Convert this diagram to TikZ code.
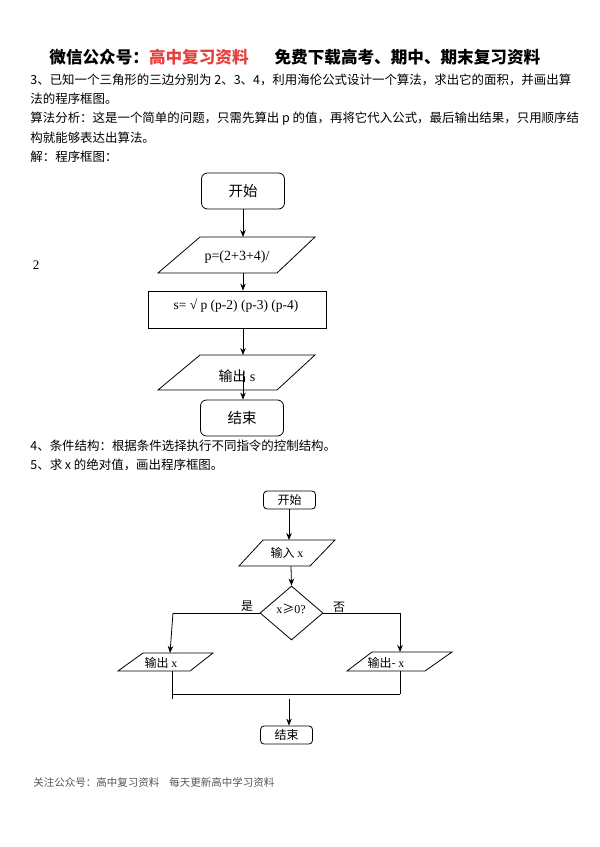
\documentclass[tikz,border=0pt]{standalone}
\usepackage{fontspec}
\setmainfont{Noto Sans CJK SC}
\newfontfamily\serif{Liberation Serif}
\usetikzlibrary{arrows.meta,shapes.geometric}
\definecolor{hdrred}{HTML}{E8403C}
\definecolor{footgray}{HTML}{555555}
\begin{document}
\begin{tikzpicture}[x=1bp,y=-1bp,line width=0.8bp,
  arr/.style={-{Stealth[length=7bp,width=5.5bp]}},
  bodytxt/.style={anchor=west,inner sep=0,font=\fontsize{12.45bp}{15bp}\selectfont},
  termA/.style={draw,rounded corners=6bp,inner sep=0,minimum width=83bp,minimum height=36bp,font=\fontsize{14.5bp}{17bp}\selectfont},
  termB/.style={draw,rounded corners=3.5bp,inner sep=0,minimum width=52bp,minimum height=18bp,font=\fontsize{12bp}{14bp}\selectfont},
  lblA/.style={inner sep=0,font=\fontsize{14bp}{17bp}\selectfont},
  lblB/.style={inner sep=0,font=\fontsize{12bp}{14bp}\selectfont}]
\useasboundingbox[fill=white] (0,0) rectangle (600,847);

% header
\node[anchor=west,inner sep=0,font=\fontsize{16.6bp}{20bp}\selectfont\bfseries] (hdr) at (49,57)
  {微信公众号：\textcolor{hdrred}{高中复习资料}\hspace{26bp}免费下载高考、期中、期末复习资料};

% body text
\node[bodytxt] (t1) at (30,80) {3、已知一个三角形的三边分别为 2、3、4，利用海伦公式设计一个算法，求出它的面积，并画出算};
\node[bodytxt] (t2) at (30,99) {法的程序框图。};
\node[bodytxt] (t3) at (30,119) {算法分析：这是一个简单的问题，只需先算出 p 的值，再将它代入公式，最后输出结果，只用顺序结};
\node[bodytxt] (t4) at (30,138) {构就能够表达出算法。};
\node[bodytxt] (t5) at (30,157) {解：程序框图：};
\node[inner sep=0,font=\serif\fontsize{13bp}{15bp}\selectfont] (two) at (36,265) {2};

% flowchart 1
\node[termA] (s1) at (243,191) {开始};
\draw (200,237) -- (315,237) -- (277,273) -- (158,273) -- cycle;
\coordinate (p1top) at (243,237);
\coordinate (p1bot) at (243,273);
\node[lblA,font=\serif\fontsize{14bp}{17bp}\selectfont] (p1) at (237,257) {p=(2+3+4)/};
\node[draw,inner sep=0,minimum width=178bp,minimum height=37bp] (r1) at (237,309.5) {};
\node[lblA,font=\serif\fontsize{13.5bp}{16bp}\selectfont] (r1t) at (236,306) {s= √ p (p-2) (p-3) (p-4)};
\draw (200,355) -- (315,355) -- (277,390) -- (158,390) -- cycle;
\coordinate (o1top) at (243,355);
\coordinate (o1mid) at (243,372);
\node[lblA] (o1) at (237,376) {输出 {\serif s}};
\node[termA] (e1) at (242,418) {结束};
\draw[arr] (s1.south -| p1top) -- (p1top);
\draw[arr] (p1bot) -- (p1bot |- r1.north);
\draw[arr] (r1.south -| o1top) -- (o1top);
\draw[arr] (o1mid) -- (o1mid |- e1.north);

% text between
\node[bodytxt] (t6) at (30,446) {4、条件结构：根据条件选择执行不同指令的控制结构。};
\node[bodytxt] (t7) at (30,465) {5、求 x 的绝对值，画出程序框图。};

% flowchart 2
\node[termB] (s2) at (289.5,500) {开始};
\draw (263,540) -- (335,540) -- (310,566) -- (239,566) -- cycle;
\coordinate (i2top) at (289,540);
\coordinate (i2bot) at (291,566);
\node[lblB] (i2) at (287,553) {输入 {\serif x}};
\node[draw,diamond,inner sep=0,minimum width=63bp,minimum height=54bp] (d2) at (291.5,613) {};
\node[lblB] (d2t) at (291,609) {{\serif x}≥{\serif 0?}};
\coordinate (yesL) at (173,613);
\coordinate (noR) at (400,613);
\node[lblB] (yes) at (247,606) {是};
\node[lblB] (no) at (339,607) {否};
\draw (118,671) -- (143,653) -- (213,653) -- (190,671) -- cycle;
\coordinate (oLtop) at (170,653);
\coordinate (oLbot) at (172,671);
\node[lblB] (oL) at (161,663) {输出 {\serif x}};
\draw (347,671) -- (372,652) -- (452,652) -- (425,671) -- cycle;
\coordinate (oRtop) at (400,652);
\coordinate (oRbot) at (400,671);
\node[lblB] (oR) at (386,663) {输出- {\serif x}};
\coordinate (mL) at (172,694);
\coordinate (mLend) at (172,699);
\coordinate (mR) at (400,694);
\coordinate (mstart) at (289,699);
\node[termB] (e2) at (286.5,735) {结束};
\draw[arr] (s2.south -| i2top) -- (i2top);
\draw[arr] (i2bot) -- (d2.north);
\draw (d2.west) -- (yesL);
\draw (d2.east) -- (noR);
\draw[arr] (yesL) -- (oLtop);
\draw[arr] (noR) -- (oRtop);
\draw (oLbot) -- (mLend);
\draw (oRbot) -- (mR);
\draw (mL) -- (mR);
\draw[arr] (mstart) -- (mstart |- e2.north);

% footer
\node[anchor=west,inner sep=0,text=footgray,font=\fontsize{10.5bp}{12bp}\selectfont] (foot) at (33,782)
  {关注公众号：高中复习资料\hspace{10bp}每天更新高中学习资料};
\end{tikzpicture}
\end{document}
